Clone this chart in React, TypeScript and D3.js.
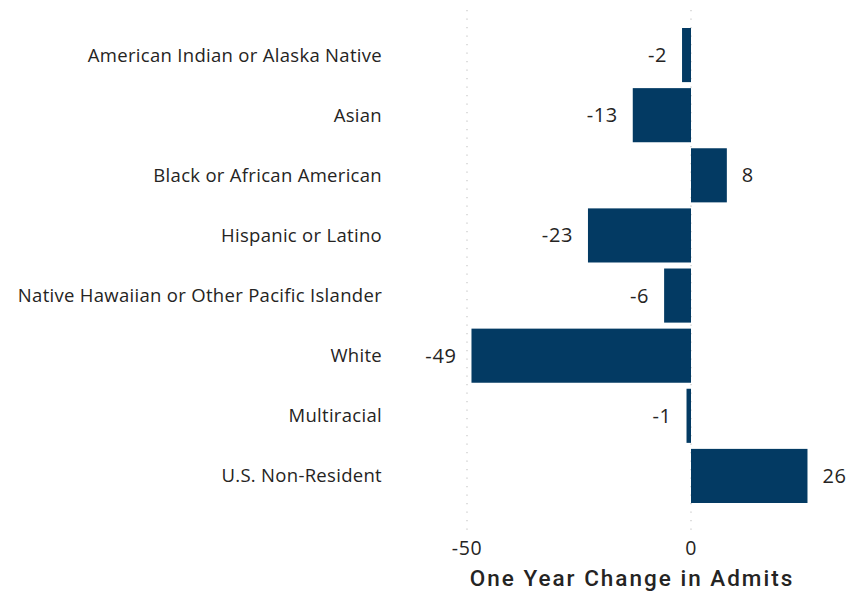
import React from "react";
import * as d3 from "d3";

const categories = [
  "American Indian or Alaska Native",
  "Asian",
  "Black or African American",
  "Hispanic or Latino",
  "Native Hawaiian or Other Pacific Islander",
  "White",
  "Multiracial",
  "U.S. Non-Resident",
];
const values = [-2, -13, 8, -23, -6, -49, -1, 26];
const tickValues = [-50, 0];
const axisTitle = "One Year Change in Admits";

const W = 848;
const H = 592;
const FONT = "'Segoe UI', 'Open Sans', 'Noto Sans', sans-serif";

export default function App() {
  const x = d3.scaleLinear().domain([-50, 30]).range([467, 825.4]);
  const y = d3.scaleBand<string>().domain(categories).range([25, 506]).paddingInner(0.1).paddingOuter(0.05);
  const color = "#033A63";
  const text = "#252423";
  return (
    <svg width={W} height={H} style={{ position: "absolute", left: 0, top: 0, background: "#fff" }}>
      {tickValues.map((t) => (
        <line key={"g" + t} x1={x(t)} x2={x(t)} y1={10} y2={530} stroke="#c8c8c8" strokeWidth={1.2} strokeDasharray="1.2 7.3" />
      ))}
      {categories.map((c, i) => {
        const v = values[i];
        const x0 = x(Math.min(0, v));
        const x1 = x(Math.max(0, v));
        const yc = (y(c) as number) + y.bandwidth() / 2;
        return (
          <g key={c}>
            <rect x={x0} y={y(c)} width={x1 - x0} height={y.bandwidth()} fill={color} />
            <text x={382} y={yc} dy="0.35em" textAnchor="end" fontFamily={FONT} fontSize={18.5} letterSpacing={0.3} fill={text}>{c}</text>
            <text x={v < 0 ? x0 - 15 : x1 + 15} y={yc} dy="0.35em" textAnchor={v < 0 ? "end" : "start"} fontFamily={FONT} fontSize={20} letterSpacing={0.6} fill={text}>{v}</text>
          </g>
        );
      })}
      {tickValues.map((t) => (
        <text key={"t" + t} x={x(t)} y={548} dy="0.35em" textAnchor="middle" fontFamily={FONT} fontSize={19.5} letterSpacing={0.6} fill={text}>{t}</text>
      ))}
      <text x={632} y={586} textAnchor="middle" fontFamily="'DIN', 'Roboto', 'Noto Sans', sans-serif" fontSize={22.5} fontWeight={500} fill={text} letterSpacing={2}>{axisTitle}</text>
    </svg>
  );
}
